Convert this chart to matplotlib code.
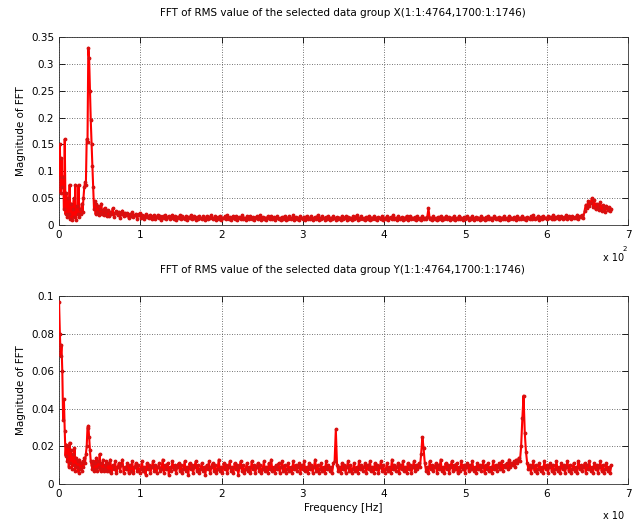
import numpy as np
import matplotlib
matplotlib.use('Agg')
import matplotlib.pyplot as plt
from matplotlib.ticker import FormatStrFormatter, MultipleLocator

# frequency grid: fine near zero, then even steps after 0.6 (x 10^2 Hz)
low_start, low_step = 0.0, 0.01
high_start, high_step = 0.6, 0.015

# group X
x_low = [0.09, 0.15, 0.06, 0.125, 0.07, 0.09, 0.03, 0.16, 0.02, 0.06,
         0.015, 0.05, 0.02, 0.075, 0.012, 0.04, 0.01, 0.03, 0.05, 0.015,
         0.075, 0.01, 0.035, 0.02, 0.075, 0.015, 0.03, 0.02, 0.04, 0.025,
         0.05, 0.07, 0.08, 0.075, 0.16, 0.155, 0.33, 0.31, 0.25, 0.195,
         0.15, 0.11, 0.07, 0.03, 0.045, 0.02, 0.04, 0.025, 0.035, 0.018,
         0.03, 0.022, 0.04, 0.02, 0.028, 0.018, 0.032, 0.02, 0.026, 0.017]
x_high = [
    0.028, 0.017, 0.024, 0.02, 0.031, 0.015, 0.022, 0.026, 0.018, 0.025, 0.014, 0.021, 0.027, 0.016, 0.023, 0.019, 0.022, 0.013, 0.02, 0.017,
    0.024, 0.015, 0.019, 0.021, 0.012, 0.018, 0.022, 0.014, 0.019, 0.016, 0.011, 0.02, 0.015, 0.017, 0.013, 0.019, 0.012, 0.016, 0.018, 0.011,
    0.015, 0.019, 0.013, 0.017, 0.01, 0.016, 0.014, 0.018, 0.012, 0.015, 0.017, 0.011, 0.014, 0.019, 0.012, 0.016, 0.01, 0.015, 0.013, 0.018,
    0.011, 0.016, 0.014, 0.012, 0.017, 0.01, 0.015, 0.013, 0.018, 0.011, 0.014, 0.016, 0.009, 0.015, 0.012, 0.017, 0.013, 0.011, 0.016, 0.014,
    0.01, 0.017, 0.012, 0.015, 0.013, 0.018, 0.011, 0.014, 0.016, 0.009, 0.015, 0.012, 0.017, 0.01, 0.014, 0.013, 0.016, 0.011, 0.018, 0.012,
    0.015, 0.01, 0.014, 0.017, 0.012, 0.016, 0.009, 0.013, 0.015, 0.011, 0.018, 0.012, 0.014, 0.01, 0.016, 0.013, 0.011, 0.017, 0.012, 0.015,
    0.01, 0.014, 0.016, 0.011, 0.013, 0.018, 0.01, 0.015, 0.012, 0.014, 0.009, 0.016, 0.013, 0.011, 0.017, 0.012, 0.015, 0.01, 0.014, 0.016,
    0.011, 0.013, 0.009, 0.015, 0.012, 0.017, 0.01, 0.014, 0.012, 0.016, 0.011, 0.013, 0.018, 0.01, 0.015, 0.012, 0.014, 0.009, 0.016, 0.013,
    0.011, 0.015, 0.01, 0.017, 0.012, 0.014, 0.011, 0.016, 0.009, 0.013, 0.015, 0.012, 0.018, 0.01, 0.014, 0.011, 0.016, 0.013, 0.01, 0.015,
    0.012, 0.017, 0.01, 0.014, 0.011, 0.016, 0.013, 0.009, 0.015, 0.012, 0.014, 0.01, 0.017, 0.011, 0.013, 0.016, 0.01, 0.015, 0.012, 0.014,
    0.009, 0.016, 0.011, 0.013, 0.018, 0.01, 0.014, 0.012, 0.016, 0.011, 0.013, 0.009, 0.015, 0.012, 0.017, 0.01, 0.014, 0.011, 0.016, 0.012,
    0.014, 0.01, 0.015, 0.013, 0.011, 0.017, 0.009, 0.014, 0.012, 0.016, 0.01, 0.013, 0.015, 0.011, 0.018, 0.012, 0.014, 0.01, 0.016, 0.013,
    0.011, 0.015, 0.009, 0.014, 0.012, 0.017, 0.01, 0.013, 0.016, 0.011, 0.014, 0.012, 0.015, 0.009, 0.017, 0.011, 0.013, 0.01, 0.016, 0.012,
    0.014, 0.011, 0.015, 0.031, 0.012, 0.014, 0.01, 0.016, 0.012, 0.013, 0.009, 0.015, 0.011, 0.017, 0.01, 0.014, 0.012, 0.016, 0.011, 0.013,
    0.015, 0.009, 0.014, 0.012, 0.017, 0.01, 0.013, 0.011, 0.016, 0.012, 0.014, 0.01, 0.015, 0.011, 0.013, 0.017, 0.009, 0.014, 0.012, 0.016,
    0.01, 0.013, 0.015, 0.011, 0.014, 0.009, 0.016, 0.012, 0.013, 0.01, 0.015, 0.012, 0.017, 0.011, 0.014, 0.01, 0.013, 0.016, 0.011, 0.014,
    0.012, 0.015, 0.009, 0.014, 0.011, 0.017, 0.012, 0.013, 0.01, 0.016, 0.012, 0.014, 0.011, 0.015, 0.013, 0.01, 0.016, 0.012, 0.014, 0.011,
    0.017, 0.012, 0.014, 0.01, 0.015, 0.013, 0.011, 0.016, 0.012, 0.018, 0.011, 0.014, 0.013, 0.016, 0.01, 0.015, 0.012, 0.017, 0.013, 0.014,
    0.011, 0.016, 0.013, 0.015, 0.012, 0.018, 0.011, 0.015, 0.013, 0.017, 0.012, 0.014, 0.016, 0.011, 0.015, 0.013, 0.018, 0.012, 0.016, 0.014,
    0.012, 0.017, 0.013, 0.015, 0.014, 0.019, 0.012, 0.016, 0.015, 0.018, 0.014, 0.026, 0.038, 0.031, 0.045, 0.036, 0.042, 0.05, 0.033, 0.047,
    0.029, 0.04, 0.034, 0.028, 0.043, 0.026, 0.037, 0.031, 0.025, 0.036, 0.028, 0.033, 0.027, 0.03]

# group Y
y_low = [0.097, 0.08, 0.068, 0.074, 0.06, 0.034, 0.045, 0.028, 0.015, 0.021,
         0.012, 0.02, 0.009, 0.022, 0.011, 0.018, 0.008, 0.016, 0.01, 0.019,
         0.007, 0.014, 0.009, 0.012, 0.006, 0.013, 0.008, 0.011, 0.007, 0.012,
         0.009, 0.014, 0.011, 0.016, 0.02, 0.03, 0.031, 0.025, 0.018, 0.012,
         0.01, 0.008, 0.012, 0.007, 0.011, 0.008, 0.014, 0.007, 0.012, 0.009,
         0.016, 0.007, 0.011, 0.008, 0.013, 0.007, 0.01, 0.008, 0.012, 0.007]
y_high = [
    0.011, 0.007, 0.013, 0.006, 0.01, 0.008, 0.012, 0.006, 0.009, 0.011, 0.007, 0.01, 0.013, 0.006, 0.009, 0.008, 0.011, 0.006, 0.01, 0.007,
    0.012, 0.006, 0.009, 0.011, 0.007, 0.01, 0.006, 0.008, 0.012, 0.007, 0.009, 0.005, 0.011, 0.008, 0.01, 0.006, 0.009, 0.012, 0.007, 0.01,
    0.006, 0.009, 0.011, 0.007, 0.008, 0.013, 0.006, 0.01, 0.008, 0.011, 0.005, 0.009, 0.007, 0.012, 0.008, 0.01, 0.006, 0.009, 0.011, 0.007,
    0.01, 0.006, 0.008, 0.012, 0.007, 0.009, 0.005, 0.011, 0.008, 0.01, 0.006, 0.009, 0.012, 0.007, 0.01, 0.006, 0.008, 0.011, 0.007, 0.009,
    0.005, 0.01, 0.008, 0.012, 0.006, 0.009, 0.011, 0.007, 0.01, 0.006, 0.008, 0.013, 0.007, 0.009, 0.006, 0.011, 0.008, 0.01, 0.006, 0.009,
    0.012, 0.007, 0.009, 0.006, 0.011, 0.008, 0.01, 0.005, 0.009, 0.012, 0.007, 0.01, 0.006, 0.008, 0.011, 0.007, 0.009, 0.006, 0.012, 0.008,
    0.01, 0.006, 0.009, 0.011, 0.007, 0.01, 0.006, 0.008, 0.012, 0.007, 0.009, 0.006, 0.011, 0.008, 0.013, 0.007, 0.009, 0.006, 0.01, 0.008,
    0.011, 0.006, 0.009, 0.012, 0.007, 0.01, 0.006, 0.008, 0.011, 0.007, 0.009, 0.006, 0.012, 0.008, 0.01, 0.007, 0.009, 0.011, 0.006, 0.01,
    0.008, 0.012, 0.007, 0.009, 0.006, 0.011, 0.008, 0.01, 0.006, 0.009, 0.013, 0.007, 0.01, 0.006, 0.008, 0.011, 0.007, 0.009, 0.006, 0.012,
    0.008, 0.01, 0.007, 0.009, 0.006, 0.011, 0.012, 0.029, 0.01, 0.007, 0.009, 0.006, 0.011, 0.008, 0.01, 0.006, 0.009, 0.012, 0.007, 0.01,
    0.006, 0.008, 0.011, 0.007, 0.009, 0.006, 0.012, 0.008, 0.01, 0.007, 0.009, 0.011, 0.006, 0.01, 0.008, 0.012, 0.007, 0.009, 0.006, 0.011,
    0.008, 0.01, 0.006, 0.009, 0.012, 0.007, 0.01, 0.006, 0.008, 0.011, 0.007, 0.009, 0.006, 0.013, 0.008, 0.01, 0.007, 0.009, 0.011, 0.006,
    0.01, 0.008, 0.012, 0.007, 0.009, 0.006, 0.011, 0.008, 0.01, 0.006, 0.009, 0.012, 0.007, 0.01, 0.008, 0.011, 0.009, 0.016, 0.025, 0.019,
    0.011, 0.007, 0.009, 0.006, 0.012, 0.008, 0.01, 0.007, 0.009, 0.011, 0.006, 0.01, 0.008, 0.013, 0.007, 0.009, 0.006, 0.011, 0.008, 0.01,
    0.006, 0.009, 0.012, 0.007, 0.01, 0.008, 0.011, 0.006, 0.009, 0.007, 0.012, 0.008, 0.01, 0.006, 0.009, 0.011, 0.007, 0.01, 0.008, 0.012,
    0.007, 0.009, 0.006, 0.011, 0.008, 0.01, 0.007, 0.009, 0.012, 0.006, 0.01, 0.008, 0.011, 0.007, 0.009, 0.006, 0.012, 0.008, 0.01, 0.007,
    0.009, 0.011, 0.008, 0.012, 0.007, 0.01, 0.009, 0.011, 0.008, 0.013, 0.009, 0.011, 0.01, 0.012, 0.009, 0.013, 0.011, 0.014, 0.012, 0.02,
    0.035, 0.047, 0.027, 0.017, 0.011, 0.008, 0.01, 0.006, 0.009, 0.012, 0.007, 0.01, 0.006, 0.008, 0.011, 0.007, 0.009, 0.006, 0.012, 0.008,
    0.01, 0.006, 0.009, 0.011, 0.007, 0.01, 0.006, 0.008, 0.012, 0.007, 0.009, 0.006, 0.011, 0.008, 0.01, 0.006, 0.009, 0.012, 0.007, 0.01,
    0.006, 0.008, 0.011, 0.007, 0.009, 0.006, 0.012, 0.008, 0.01, 0.007, 0.009, 0.011, 0.006, 0.01, 0.008, 0.012, 0.007, 0.009, 0.006, 0.011,
    0.008, 0.01, 0.006, 0.009, 0.012, 0.007, 0.01, 0.006, 0.008, 0.011, 0.007, 0.009, 0.006, 0.01]

titles = ['FFT of RMS value of the selected data group X(1:1:4764,1700:1:1746)',
          'FFT of RMS value of the selected data group Y(1:1:4764,1700:1:1746)']


def freq_axis(low, high):
    f_low = low_start + low_step * np.arange(len(low))
    f_high = high_start + high_step * np.arange(len(high))
    return np.concatenate([f_low, f_high]), np.array(low + high)


plt.rcParams['font.family'] = ['DejaVu Sans']
fig = plt.figure(figsize=(6.35, 5.21), dpi=100)

ax1 = fig.add_axes([0.093, 0.568, 0.896, 0.361])
ax2 = fig.add_axes([0.093, 0.071, 0.896, 0.361])

for ax, (lo, hi), ymax, ystep in [(ax1, (x_low, x_high), 0.35, 0.05),
                                  (ax2, (y_low, y_high), 0.1, 0.02)]:
    f, mag = freq_axis(lo, hi)
    ax.plot(f, mag, color='red', lw=1.5, marker='.', ms=3.5,
            mec='#d81010', mfc='#d81010', zorder=3)
    ax.set_xlim(0, 7)
    ax.set_ylim(0, ymax)
    ax.xaxis.set_major_locator(MultipleLocator(1))
    ax.yaxis.set_major_locator(MultipleLocator(ystep))
    ax.yaxis.set_major_formatter(FormatStrFormatter('%g'))
    ax.xaxis.set_major_formatter(FormatStrFormatter('%g'))
    ax.tick_params(direction='in', top=True, right=True, labelsize=7.5,
                   length=4, width=0.6)
    ax.grid(True, color='#444444', ls=(0, (1, 2)), lw=0.6)
    for s in ax.spines.values():
        s.set_linewidth(0.6)
        s.set_color('#333333')
    ax.set_ylabel('Magnitude of FFT', fontsize=7.5, labelpad=4)

ax2.set_xlabel('Frequency [Hz]', fontsize=7.5, labelpad=3)

fig.text(0.54, 0.975, titles[0], ha='center', va='center', fontsize=7.5)
fig.text(0.54, 0.482, titles[1], ha='center', va='center', fontsize=7.5)

fig.text(0.95, 0.505, 'x 10', ha='left', va='center', fontsize=7)
fig.text(0.98, 0.523, '2', ha='left', va='center', fontsize=5)
fig.text(0.95, 0.009, 'x 10', ha='left', va='center', fontsize=7)

fig.savefig('out.png', dpi=100)
